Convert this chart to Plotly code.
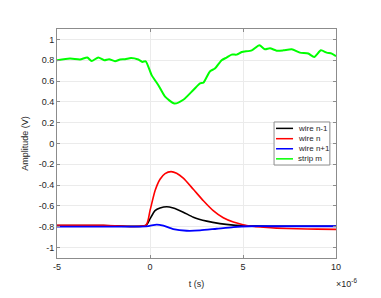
import plotly.graph_objects as go

# time in microseconds (axis shown with x10^-6 multiplier)
t_wire_nm1 = [-5, -2.5, -0.22, 0, 0.27, 0.54, 0.9, 1.25, 1.79, 2.33, 3.05, 3.76, 4.48, 5.2, 6.5, 8, 10]
v_wire_nm1 = [-0.788, -0.788, -0.788, -0.724, -0.645, -0.62, -0.607, -0.62, -0.66, -0.708, -0.746, -0.77, -0.784, -0.79, -0.795, -0.795, -0.795]

t_wire_n = [-5, -2.5, -0.22, 0, 0.27, 0.54, 0.81, 1.13, 1.43, 1.79, 2.33, 2.87, 3.4, 3.94, 4.48, 5.0, 5.6, 6.1, 6.8, 7.9, 9, 10]
v_wire_n = [-0.785, -0.785, -0.785, -0.645, -0.454, -0.343, -0.289, -0.27, -0.286, -0.333, -0.44, -0.55, -0.645, -0.714, -0.755, -0.78, -0.797, -0.805, -0.813, -0.819, -0.823, -0.825]

t_wire_np1 = [-5, -2.5, -0.2, 0.36, 0.72, 1.25, 1.97, 2.69, 3.58, 4.48, 5.38, 7, 8.5, 10]
v_wire_np1 = [-0.798, -0.798, -0.796, -0.779, -0.79, -0.822, -0.838, -0.835, -0.819, -0.803, -0.795, -0.795, -0.795, -0.795]

t_strip = [-5.0, -4.3, -3.76, -3.37, -3.14, -2.78, -2.46, -2.2, -1.88, -1.61, -1.34, -1.02, -0.63, -0.41, -0.23,
           0.09, 0.45, 0.81, 1.31, 1.79, 2.33, 2.69, 2.87, 3.23, 3.49, 3.85, 4.12, 4.39, 4.66, 4.93, 5.47, 5.88,
           6.18, 6.45, 6.81, 7.17, 7.62, 8.06, 8.51, 8.83, 9.19, 9.5, 9.77, 10.0]
v_strip = [0.80, 0.816, 0.807, 0.826, 0.793, 0.826, 0.80, 0.81, 0.79, 0.807, 0.81, 0.822, 0.807, 0.784, 0.79,
           0.657, 0.56, 0.45, 0.384, 0.42, 0.514, 0.578, 0.584, 0.695, 0.72, 0.80, 0.826, 0.854, 0.854, 0.879, 0.895, 0.943,
           0.905, 0.914, 0.892, 0.895, 0.905, 0.873, 0.864, 0.831, 0.895, 0.873, 0.864, 0.838]

x_ticks = [-5, 0, 5, 10]
y_ticks = [-1, -0.8, -0.6, -0.4, -0.2, 0, 0.2, 0.4, 0.6, 0.8, 1]
y_tick_text = ["-1", "-0.8", "-0.6", "-0.4", "-0.2", "0", "0.2", "0.4", "0.6", "0.8", "1"]

series_names = ["wire n-1", "wire n", "wire n+1", "strip m"]
series_colors = ["#000000", "#ff0000", "#0000ff", "#00ff00"]
series_widths = [1.6, 1.6, 1.8, 2.0]
series_x = [t_wire_nm1, t_wire_n, t_wire_np1, t_strip]
series_y = [v_wire_nm1, v_wire_n, v_wire_np1, v_strip]

FONT = "Liberation Sans, Arial"
TXT = "#262626"
AX = "#8c8c8c"

fig = go.Figure()
for name, xs, ys, col, w in zip(series_names, series_x, series_y, series_colors, series_widths):
    fig.add_trace(go.Scatter(x=xs, y=ys, mode="lines", name=name, showlegend=False,
                             line=dict(color=col, width=w, shape="spline", smoothing=0.6)))

axis_common = dict(showline=True, linecolor=AX, linewidth=1, mirror="ticks",
                   ticks="inside", ticklen=3, tickcolor=AX, automargin=False,
                   showgrid=True, gridcolor="#ebebeb", gridwidth=1, zeroline=False,
                   tickfont=dict(family=FONT, size=9, color=TXT))

# page body has an 8px margin, so the figure is sized/offset to land on the reference pixels
fig.update_layout(
    width=373, height=290,
    margin=dict(l=49, r=45, t=21, b=40),
    paper_bgcolor="white", plot_bgcolor="white",
    font=dict(family=FONT, size=9, color=TXT),
    xaxis=dict(range=[-5, 10], tickvals=x_ticks, ticktext=[str(v) for v in x_ticks],
               title=dict(text="t (s)", font=dict(size=9), standoff=9), **axis_common),
    yaxis=dict(range=[-1.1, 1.1], tickvals=y_ticks, ticktext=y_tick_text,
               title=dict(text="Amplitude (V)", font=dict(size=9), standoff=8), **axis_common),
    showlegend=False,
)

# x-axis exponent label
fig.add_annotation(x=1.0, y=0, xref="paper", yref="paper", xanchor="center", yanchor="top",
                   yshift=-17, xshift=10, showarrow=False,
                   text="×10<sup>-6</sup>", font=dict(size=9, color=TXT))

# manual MATLAB-style compact legend
leg_x0, leg_x1, leg_y0, leg_y1 = 0.778, 0.978, 0.406, 0.594
fig.add_shape(type="rect", xref="paper", yref="paper", x0=leg_x0, x1=leg_x1, y0=leg_y0, y1=leg_y1,
              line=dict(color=AX, width=1), fillcolor="white", layer="above")
leg_rows = [0.566, 0.521, 0.477, 0.433]
for name, col, yy in zip(series_names, series_colors, leg_rows):
    fig.add_shape(type="line", xref="paper", yref="paper", x0=0.785, x1=0.846, y0=yy, y1=yy,
                  line=dict(color=col, width=1.5), layer="above")
    fig.add_annotation(x=0.855, y=yy, xref="paper", yref="paper", xanchor="left", yanchor="middle",
                       showarrow=False, text=name, font=dict(size=8, color=TXT))

fig.write_html("out.html")
